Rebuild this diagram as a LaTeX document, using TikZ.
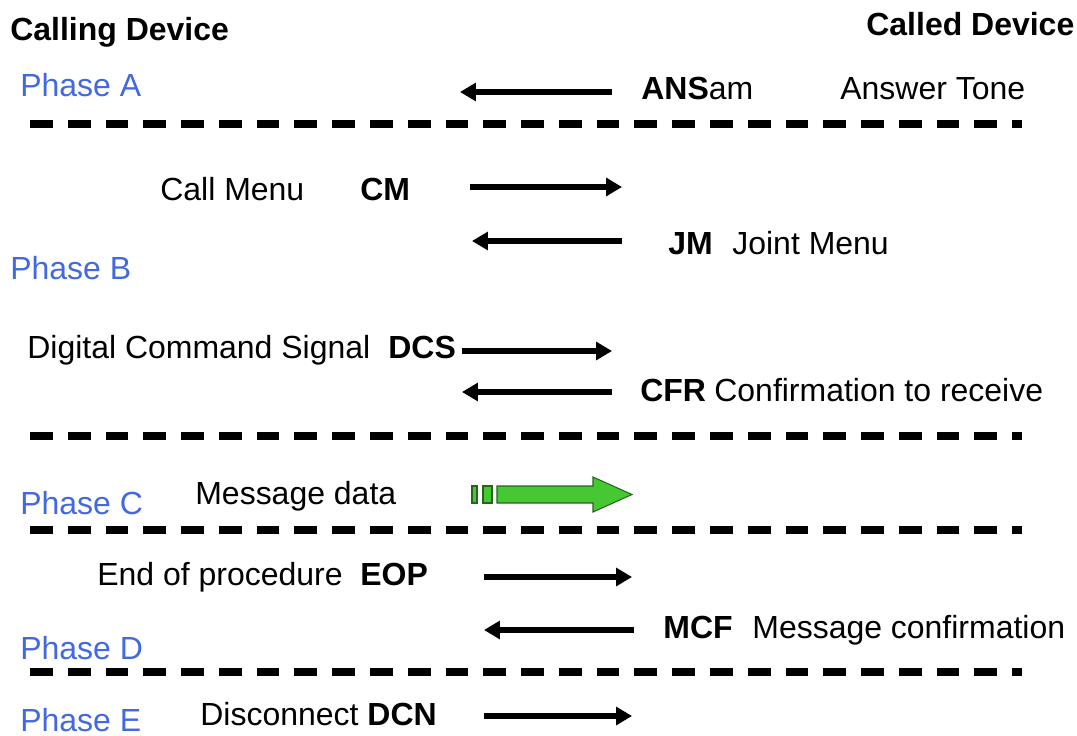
\documentclass[tikz,border=0pt]{standalone}
\usepackage{fontspec}
\setmainfont{Liberation Sans}
\usetikzlibrary{arrows.meta,positioning}

\definecolor{phaseblue}{RGB}{66,104,226}
\definecolor{msggreen}{RGB}{70,200,50}
\definecolor{msgdark}{RGB}{40,100,30}

\begin{document}
\begin{tikzpicture}
[x=0.02cm, y=-0.02cm, font=\fontsize{18.2}{20}\selectfont, >={Triangle[length=9pt,width=10pt]},
msg/.style={anchor=base west, inner sep=0pt},
phase/.style={anchor=base west, inner sep=0pt, text=phaseblue},
head/.style={anchor=base west, inner sep=0pt, font=\fontsize{18.2}{20}\selectfont\bfseries},
code/.style={anchor=base west, inner sep=0pt, font=\fontsize{18.2}{20}\selectfont\bfseries},
sig/.style={->, line width=3pt},
sep/.style={line width=4pt, dash pattern=on 13pt off 8.5pt}]

\useasboundingbox (0,0) rectangle (1077,736);

\node[head] (calling) at (10,41) {Calling Device};
\node[head] (called) at (866,36) {Called Device};

\node[phase] (phaseA) at (20,97) {Phase A};
\node[phase] (phaseB) at (10,279) {Phase B};
\node[phase] (phaseC) at (20,514) {Phase C};
\node[phase] (phaseD) at (20,659) {Phase D};
\node[phase] (phaseE) at (20,731) {Phase E};

% separators
\foreach \y/\n in {124/1, 436/2, 530/3, 672/4} {
  \coordinate (sepL\n) at (30,\y);
  \coordinate (sepR\n) at (1022,\y);
  \draw[sep] (sepL\n) -- (sepR\n);
}

% phase A
\node[msg] (ansam) at (641,100) {\textbf{ANS}am};
\node[msg] (anstone) at (840,100) {Answer Tone};

% phase B
\node[msg] (callmenu) at (160,201) {Call Menu};
\node[code] (cm) at (360,201) {CM};
\node[code] (jm) at (668,255) {JM};
\node[msg] (jointmenu) at (732,255) {Joint Menu};
\node[msg] (dcstext) at (27,358) {Digital Command Signal};
\node[code] (dcs) at (388,358) {DCS};
\node[code] (cfr) at (640,401) {CFR};
\node[msg] (cfrtext) at (714,401) {Confirmation to receive};

% phase C
\node[msg] (msgdata) at (195,504) {Message data};

% phase D
\node[msg] (eoptext) at (97,585) {End of procedure};
\node[code] (eop) at (360,585) {EOP};
\node[code] (mcf) at (663,638) {MCF};
\node[msg] (mcftext) at (752,638) {Message confirmation};

% phase E
\node[msg] (dcntext) at (200,725) {Disconnect \textbf{DCN}};

% signal arrows
\foreach \n/\a/\b/\y in {ans/612/460/92, cm/470/622/187, jm/622/472/241,
  dcs/462/612/351, cfr/612/462/392, eop/484/632/577, mcf/634/484/630, dcn/484/632/716} {
  \coordinate (\n-from) at (\a,\y);
  \coordinate (\n-to) at (\b,\y);
  \draw[sig] (\n-from) -- (\n-to);
}

% message data arrow
\draw[fill=msggreen, draw=msgdark, line width=0.6pt] (472,486) rectangle (477,503);
\draw[fill=msggreen, draw=msgdark, line width=0.6pt] (483,486) rectangle (492,503);
\draw[fill=msggreen, draw=msgdark, line width=0.6pt]
  (497,486) -- (593,486) -- (593,477) -- (632,494.5) -- (593,512) -- (593,503) -- (497,503) -- cycle;
\end{tikzpicture}
\end{document}
